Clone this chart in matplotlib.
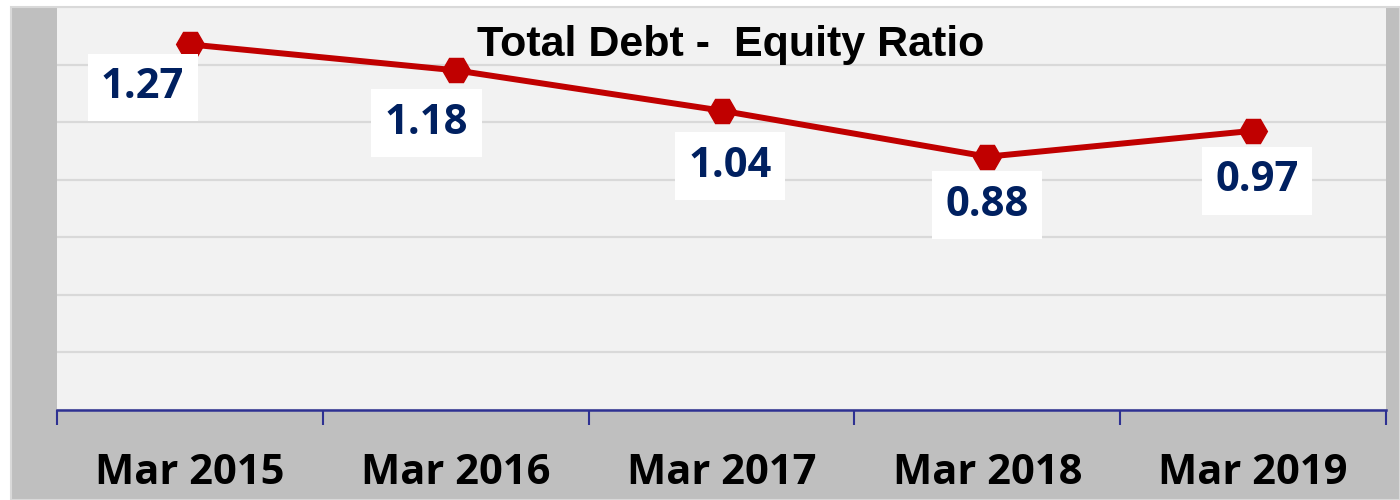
import matplotlib.pyplot as plt
from matplotlib.patches import Rectangle
from matplotlib.ticker import FixedLocator, NullFormatter

# data <<<
years = ["Mar 2015", "Mar 2016", "Mar 2017", "Mar 2018", "Mar 2019"]
ratio = [1.27, 1.18, 1.04, 0.88, 0.97]
# label offsets (points) from each marker
label_dx = [-34, -21, 6, 0, 3]
label_dy = [-31, -38, -40, -35, -36]
# >>>

fig = plt.figure(figsize=(14, 5), dpi=100)
fig.patch.set_facecolor("white")

# grey chart frame
fig.patches.append(Rectangle((11 / 1400, 0), 1 - 11 / 1400, 493 / 500,
                             transform=fig.transFigure, facecolor="#BFBFBF",
                             edgecolor="#D9D9D9", linewidth=1.5, zorder=-5))

ax = fig.add_axes([57 / 1400, 90 / 500, 1329 / 1400, 403 / 500])
ax.set_facecolor("#F2F2F2")

x = list(range(len(years)))
ax.plot(x, ratio, color="#C00000", linewidth=4.3, marker="H",
        markersize=20, zorder=3)

for xi, v, dx, dy in zip(x, ratio, label_dx, label_dy):
    ax.annotate(f"{v:.2f}", (xi, v), xytext=(dx, dy), textcoords="offset points",
                ha="center", va="center", fontsize=30, fontweight="bold",
                family="Open Sans", color="#002060", zorder=4,
                bbox=dict(boxstyle="square,pad=0.32", facecolor="white",
                          edgecolor="none"))

ax.set_xlim(-0.5, len(years) - 0.5)
ax.set_ylim(0, 1.4)
ax.set_yticks([0.2 * i for i in range(8)])
ax.yaxis.grid(True, color="#D9D9D9", linewidth=1.6)
ax.set_axisbelow(True)
ax.tick_params(axis="y", left=False, labelleft=False)

# category boundaries as major ticks, labels on minor ticks
ax.xaxis.set_major_locator(FixedLocator([i - 0.5 for i in range(len(years) + 1)]))
ax.xaxis.set_major_formatter(NullFormatter())
ax.xaxis.set_minor_locator(FixedLocator(x))
ax.set_xticklabels(years, minor=True)
ax.tick_params(axis="x", which="major", direction="out", length=11,
               width=1.5, color="#2E3192")
ax.tick_params(axis="x", which="minor", length=0, pad=31)
for lbl in ax.get_xticklabels(minor=True):
    lbl.set_fontsize(30)
    lbl.set_fontweight("bold")
    lbl.set_family("Open Sans")

for s in ["top", "left", "right"]:
    ax.spines[s].set_visible(False)
ax.spines["bottom"].set_color("#2E3192")
ax.spines["bottom"].set_linewidth(1.8)

ax.text(0.507, 0.905, "Total Debt -  Equity Ratio", transform=ax.transAxes,
        ha="center", va="center", fontsize=31, fontweight="bold",
        family="Liberation Sans", color="black", zorder=5)

plt.savefig("out.png", dpi=100)
